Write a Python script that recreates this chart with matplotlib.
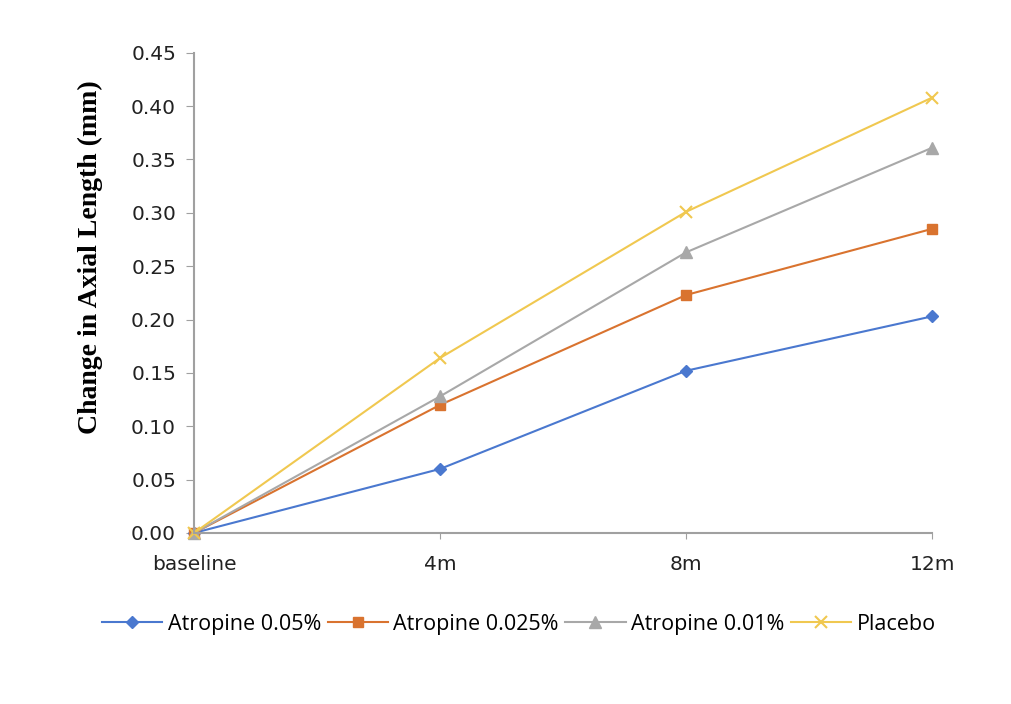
import numpy as np
import matplotlib
matplotlib.use("Agg")
import matplotlib.pyplot as plt

# change in axial length per visit
visits = ["baseline", "4m", "8m", "12m"]
atropine_005 = [0.0, 0.060, 0.152, 0.203]
atropine_0025 = [0.0, 0.120, 0.223, 0.285]
atropine_001 = [0.0, 0.128, 0.263, 0.361]
placebo = [0.0, 0.164, 0.301, 0.408]
yticks = np.arange(0, 0.451, 0.05)

fig = plt.figure(figsize=(10.11, 7.04), dpi=100)
ax = fig.add_axes([0.192, 0.243, 0.730, 0.682])

x = np.arange(len(visits))
ax.plot(x, atropine_005, color="#4A78CF", marker="D", markersize=6, lw=1.5, label="Atropine 0.05%")
ax.plot(x, atropine_0025, color="#D9732F", marker="s", markersize=7, lw=1.5, label="Atropine 0.025%")
ax.plot(x, atropine_001, color="#A8A8A8", marker="^", markersize=8, lw=1.5, label="Atropine 0.01%")
ax.plot(x, placebo, color="#F0C850", marker="x", markersize=9, mew=1.5, lw=1.5, label="Placebo")

ax.set_xlim(0, 3)
ax.set_ylim(0, 0.45)
ax.set_xticks(x)
ax.set_xticklabels(visits)
ax.set_yticks(yticks)
ax.set_yticklabels([f"{v:.2f}" for v in yticks])
ax.tick_params(axis="x", length=4, color="#A0A0A0", pad=12, labelsize=14.5)
ax.tick_params(axis="y", length=6, color="#A0A0A0", direction="out", pad=7, labelsize=14.5)
for lab in ax.get_xticklabels() + ax.get_yticklabels():
    lab.set_family("DejaVu Sans")
    lab.set_color("#222222")

for s in ["top", "right"]:
    ax.spines[s].set_visible(False)
for s in ["left", "bottom"]:
    ax.spines[s].set_color("#A0A0A0")
    ax.spines[s].set_linewidth(1.5)
for line in ax.get_lines():
    line.set_clip_on(False)

ax.set_ylabel("Change in Axial Length (mm)", family="Liberation Serif",
              fontweight="bold", fontsize=20)
ax.yaxis.set_label_coords(-0.124, 0.575)

ax.legend(loc="center", bbox_to_anchor=(0.44, -0.19), ncol=4, frameon=False,
          prop={"family": "Open Sans", "size": 15.5}, handlelength=2.8,
          handletextpad=0.25, columnspacing=0.3)

fig.savefig("out.png", dpi=100)
